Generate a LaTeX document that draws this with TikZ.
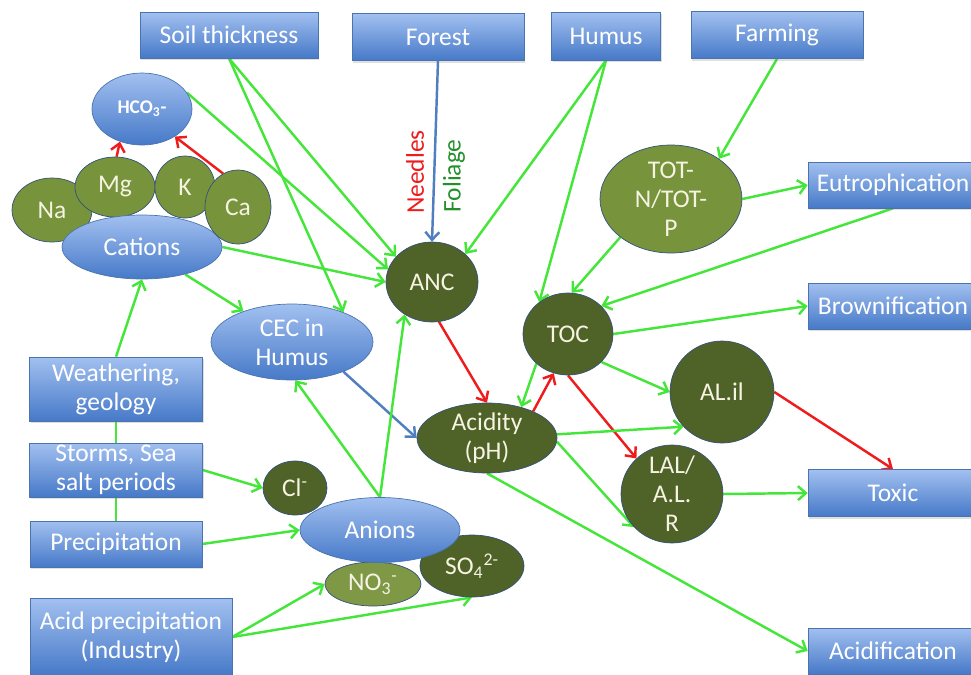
\documentclass[tikz,border=0pt]{standalone}
\usepackage{fontspec}
\setmainfont{Carlito}
\usetikzlibrary{arrows.meta, shapes, shadows, backgrounds}

\definecolor{boxtop}{HTML}{A2C0F0}
\definecolor{boxbot}{HTML}{4679C8}
\definecolor{boxline}{HTML}{4A74AE}
\definecolor{ionlight}{HTML}{77933C}
\definecolor{iondark}{HTML}{4F6228}
\definecolor{paletext}{HTML}{F6F3E2}
\definecolor{linkgreen}{HTML}{45E63A}
\definecolor{linkred}{HTML}{EE1C1C}
\definecolor{linkblue}{HTML}{4F7FC0}
\definecolor{leafgreen}{HTML}{23902A}

\begin{document}
\begin{tikzpicture}[
  x=0.02cm, y=-0.02cm,
  every node/.style = {font=\fontsize{14.5}{16.5}\selectfont, align=center},
  factor/.style = {rectangle, draw=boxline, top color=boxtop, bottom color=boxbot,
                   text=white, inner sep=1pt,
                   drop shadow={shadow xshift=0.8pt, shadow yshift=-1.4pt, opacity=0.25}},
  pool/.style   = {ellipse, draw=boxline, top color=boxtop, bottom color=boxbot,
                   text=white, inner sep=0pt},
  ion/.style    = {ellipse, draw=boxline!70!black, fill=#1, text=paletext, inner sep=-2pt},
  ion/.default  = iondark,
  arr/.style    = {-{Straight Barb[length=4.5pt, width=8pt]}, line width=1.4pt, linkgreen},
  link/.style   = {line width=1.4pt, linkgreen},
]
\useasboundingbox (0,0) rectangle (971,674);

%% -- driving factors (top row) ------------------------------------------
\node[factor, minimum width=3.56cm, minimum height=0.92cm] at (229,35) (soil) {Soil thickness};
\node[factor, minimum width=3.44cm, minimum height=0.94cm] at (438,37) (forest) {Forest};
\node[factor, minimum width=2.18cm, minimum height=0.96cm] at (606,36) (humus) {Humus};
\node[factor, minimum width=3.44cm, minimum height=0.94cm] at (777,35) (farming) {Farming};

%% -- driving factors (left column) --------------------------------------
\node[factor, minimum width=3.46cm, minimum height=1.28cm] at (116,389) (weather) {Weathering,\\geology};
\node[factor, minimum width=3.46cm, minimum height=1.08cm] at (116,470) (storms) {Storms, Sea\\salt periods};
\node[factor, minimum width=3.44cm, minimum height=0.92cm] at (116,544) (precip) {Precipitation};
\node[factor, minimum width=4.04cm, minimum height=1.54cm] at (131,637) (acidp) {Acid precipitation\\(Industry)};

%% -- effects (right column) ---------------------------------------------
\node[factor, minimum width=3.4cm, minimum height=0.92cm] at (893,185) (eutro) {Eutrophication};
\node[factor, minimum width=3.4cm, minimum height=0.92cm] at (893,306) (brown) {Brownification};
\node[factor, minimum width=3.4cm, minimum height=0.94cm] at (893,493) (toxic) {Toxic};
\node[factor, minimum width=3.4cm, minimum height=0.92cm] at (893,651) (acidif) {Acidification};

%% -- cation cluster ------------------------------------------------------
\node[pool, minimum width=2.0cm, minimum height=1.44cm,
      font=\fontsize{11}{13}\selectfont\bfseries] at (142,109) (hco) {HCO\textsubscript{3}-};
\node[ion=ionlight, minimum width=1.6cm, minimum height=1.28cm] at (52,210) (na) {Na};
\node[ion=ionlight, minimum width=1.6cm, minimum height=1.2cm] at (115,187) (mg) {Mg};
\node[ion=ionlight, minimum width=1.2cm, minimum height=1.24cm] at (185,187) (k) {K};
\node[pool, minimum width=3.2cm, minimum height=1.28cm] at (142,247) (cations) {Cations};
\node[ion=ionlight, minimum width=1.32cm, minimum height=1.48cm] at (238,207) (ca) {Ca};

%% -- soil pools and states ----------------------------------------------
\node[pool, minimum width=3.24cm, minimum height=1.52cm] at (292,342) (cec) {CEC in\\Humus};
\node[ion, minimum width=1.84cm, minimum height=1.6cm] at (432,282) (anc) {ANC};
\node[ion, minimum width=1.8cm, minimum height=1.64cm] at (568,334) (toc) {TOC};
\node[ion=ionlight, minimum width=2.84cm, minimum height=2.16cm] at (671,199) (tot) {TOT-\\N/TOT-\\P};
\node[ion, minimum width=2.08cm, minimum height=2.04cm] at (722,392) (alil) {AL.il};
\node[ion, minimum width=2.8cm, minimum height=1.4cm] at (487,438) (acid) {Acidity\\(pH)};
\node[ion, minimum width=2.04cm, minimum height=1.96cm] at (672,494) (lal) {LAL/\\A.L.\\R};

%% -- anion cluster ------------------------------------------------------
\node[ion, minimum width=1.28cm, minimum height=1.08cm] at (295,488) (cl) {Cl\textsuperscript{-}};
\node[ion=ionlight!95!white, minimum width=1.92cm, minimum height=0.88cm] at (373,584) (no3) {NO\textsubscript{3}\textsuperscript{-}};
\node[ion, minimum width=2.08cm, minimum height=1.24cm] at (472,566) (so4) {SO\textsubscript{4}\textsuperscript{2-}};
\node[pool, minimum width=3.2cm, minimum height=1.3cm] at (380,530) (anions) {Anions};

%% -- forest litter labels -----------------------------------------------
\node[rotate=90, text=linkred] at (415,172) (needles) {Needles};
\node[rotate=90, text=leafgreen] at (454,176) (foliage) {Foliage};

%% == CONNECTORS ==========================================================
\begin{scope}[on background layer]
  % left column
  \draw[link] (precip.north) -- (storms.south);
  \draw[link] (storms.north) -- (weather.south);
  \draw[arr] (weather.north) -- (cations.south);
  \draw[arr] (storms.east) -- (cl.west);
  \draw[arr] (precip.east) -- (anions.west);
  \draw[arr] (acidp.east) -- (no3.west);
  \draw[arr] (acidp.east) -- (so4.south);

  % cations
  \draw[arr, linkred] (mg.87) -- (hco.-124);
  \draw[arr, linkred] (ca.114) -- (hco.-40);
  \draw[arr] (hco.20) -- (anc.164);
  \draw[arr] (cations.east) -- (anc.west);
  \draw[arr] (cations) -- (cec);

  % top row
  \draw[arr] (soil.south) -- (anc.145);
  \draw[arr] (soil.south) -- (cec.30);
  \draw[arr, linkblue] (forest.south) -- (anc.north);
  \draw[arr] (humus.south) -- (anc.40);
  \draw[arr] (humus.south) -- (toc.132);
  \draw[arr] (farming.south) -- (tot.40);

  % nutrients and carbon
  \draw[arr] (tot.east) -- (eutro.west);
  \draw[arr] (eutro.south) -- (toc.40);
  \draw[arr] (tot.217) -- (toc.85);
  \draw[arr] (toc.east) -- (brown.west);
  \draw[arr] (toc.-40) -- (alil.west);
  \draw[arr, linkred] (toc.south) -- (lal.135);
  \draw[arr] (toc.223) -- (acid.42);
  \draw[arr, linkred] (acid.30) -- (toc.-110);

  % acidity
  \draw[arr, linkred] (anc.-80) -- (acid.north);
  \draw[arr, linkblue] (cec.-30) -- (acid.west);
  \draw[arr] (anions.north) -- (cec.-85);
  \draw[arr] (anions.north) -- (anc.230);
  \draw[arr] (acid.3) -- (alil.-138);
  \draw[arr] (acid.-3) -- (lal.-139);
  \draw[arr] (acid.south) -- (acidif.west);

  % toxicity
  \draw[arr, linkred] (alil.east) -- (toxic.north);
  \draw[arr] (lal.east) -- (toxic.west);
\end{scope}

\end{tikzpicture}
\end{document}
